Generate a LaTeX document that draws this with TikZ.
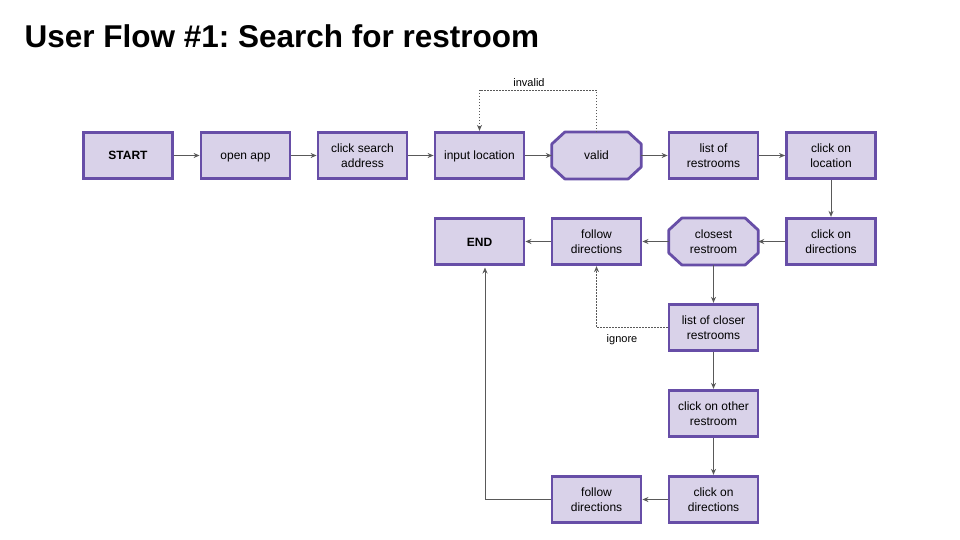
\documentclass[tikz,border=0pt]{standalone}
\usepackage{fontspec}
\setmainfont{Liberation Sans}
\usetikzlibrary{arrows.meta,calc}
\frenchspacing
\definecolor{boxfill}{HTML}{D9D2E9}
\definecolor{boxline}{HTML}{674EA7}
\definecolor{conn}{HTML}{595959}
\tikzset{
  stepbox/.style={draw=boxline,fill=boxfill,line width=2.8pt,minimum width=89pt,minimum height=46.5pt,inner sep=1pt,align=center,font=\fontsize{12}{14.5}\selectfont},
  oneline/.style={text height=9pt,text depth=0pt},
  decbox/.style={minimum width=89pt,minimum height=46.5pt,inner sep=1pt,align=center,font=\fontsize{12}{14.5}\selectfont},
  octa/.style={draw=boxline,fill=boxfill,line width=2.8pt,line join=round},
  link/.style={draw=conn,line width=1pt,-{Stealth[length=6pt,width=5pt]}},
  dlink/.style={link,dash pattern=on 1.5pt off 1.5pt,line width=0.8pt},
  lbl/.style={font=\fontsize{11}{13}\selectfont,text=black}
}
\newcommand{\drawocta}[1]{%
  \draw[octa] ($(#1.north west)+(13,0)$) -- ($(#1.north east)+(-13,0)$) -- ($(#1.north east)+(0,12)$)
    -- ($(#1.south east)+(0,-12)$) -- ($(#1.south east)+(-13,0)$) -- ($(#1.south west)+(13,0)$)
    -- ($(#1.south west)+(0,-12)$) -- ($(#1.north west)+(0,12)$) -- cycle;}
\begin{document}
\begin{tikzpicture}[x=1pt,y=-1pt]
\useasboundingbox (0,0) rectangle (960,540);
\node[anchor=base west,font=\fontsize{31.5}{36}\selectfont\bfseries] (title) at (21,48) {User Flow \#1: Search for restroom};
% decision shapes (outline drawn first, text on top)
\path (596.5,155.5) coordinate (validc) (713.5,241.5) coordinate (closestc);
\node[decbox] (valid) at (validc) {};
\node[decbox] (closest) at (closestc) {};
\drawocta{valid}
\drawocta{closest}
\node[decbox,oneline] (validtext) at (validc) {valid};
\node[decbox] (closesttext) at (closestc) {closest\\restroom};
% row 1
\node[stepbox,oneline,font=\fontsize{12}{14.5}\selectfont\bfseries] (start) at (128,155.5) {START};
\node[stepbox,oneline] (open) at (245.5,155.5) {open app};
\node[stepbox] (search) at (362.5,155.5) {click search\\address};
\node[stepbox,oneline] (input) at (479.5,155.5) {input location};
\node[stepbox] (list) at (713.5,155.5) {list of\\restrooms};
\node[stepbox] (clickloc) at (831,155.5) {click on\\location};
% row 2
\node[stepbox,oneline,font=\fontsize{12}{14.5}\selectfont\bfseries] (end) at (479.5,241.5) {END};
\node[stepbox] (follow) at (596.5,241.5) {follow\\directions};
\node[stepbox] (clickdir) at (831,241.5) {click on\\directions};
% column
\node[stepbox] (closer) at (713.5,327.5) {list of closer\\restrooms};
\node[stepbox] (other) at (713.5,413.5) {click on other\\restroom};
\node[stepbox] (clickdir2) at (713.5,499.5) {click on\\directions};
\node[stepbox] (follow2) at (596.5,499.5) {follow\\directions};
% connectors
\draw[link] (start) -- (open);
\draw[link] (open) -- (search);
\draw[link] (search) -- (input);
\draw[link] (input) -- (valid);
\draw[link] (valid) -- (list);
\draw[link] (list) -- (clickloc);
\draw[link] (clickloc) -- (clickdir);
\draw[link] (clickdir) -- (closest);
\draw[link] (closest) -- (follow);
\draw[link] (follow) -- (end);
\draw[link] (closest) -- (closer);
\draw[link] (closer) -- (other);
\draw[link] (other) -- (clickdir2);
\draw[link] (clickdir2) -- (follow2);
\coordinate (endin) at (485,267.5);
\draw[link] (follow2.west) -- (endin |- follow2.west) -- (endin);
\coordinate (invTop) at (0,90);
\draw[dlink] (valid.north) -- (valid.north |- invTop) -- (input.north |- invTop) -- (input.north);
\node[lbl] (invalid) at (529,83) {invalid};
\draw[dlink] (closer.west) -- (closer.west -| follow.south) -- (follow.south);
\node[lbl] (ignore) at (622,340) {ignore};
\end{tikzpicture}
\end{document}
